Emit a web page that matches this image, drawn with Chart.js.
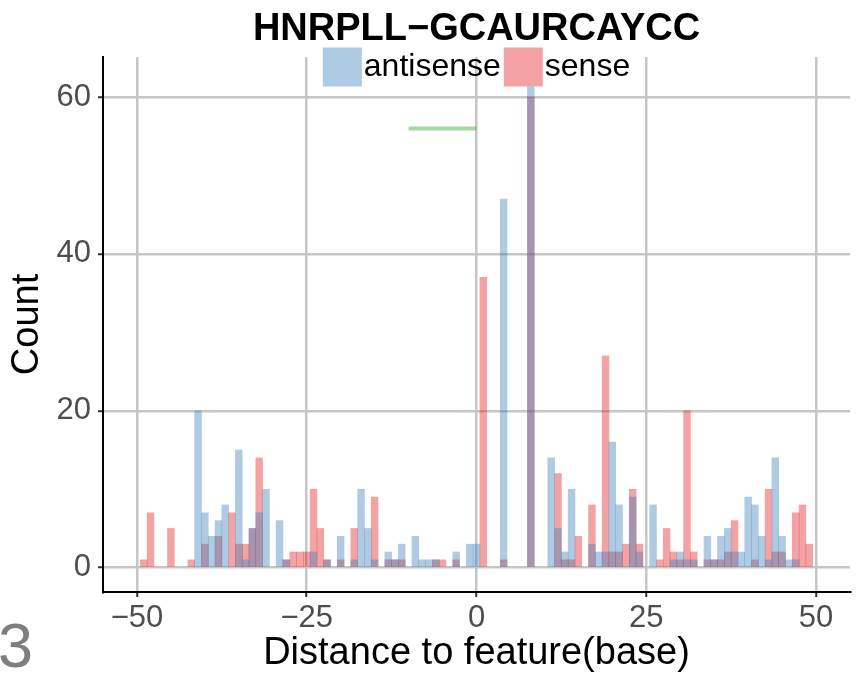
<!DOCTYPE html>
<html>
<head>
<meta charset="utf-8">
<title>HNRPLL-GCAURCAYCC</title>
<script src="https://cdn.jsdelivr.net/npm/chart.js@4.4.1/dist/chart.umd.min.js"></script>
<style>
  html, body { margin: 0; padding: 0; background: #fff; }
  canvas { display: block; }
</style>
</head>
<body>
<canvas id="myChart" width="864" height="676"></canvas>
<script>
// counts per base, bins of width 1 (only non-empty bins)
const antisensePos = [-41, -40, -39, -38, -37, -35, -34, -33, -32, -31, -29, -28, -24, -22, -20, -18, -17, -16, -15, -13, -12, -11, -9, -8, -7, -6, -3, -1, 0,
    4, 8, 11, 12, 13, 14, 17, 18, 19, 20, 21, 23, 24, 26, 29, 30, 31, 32, 34, 35, 36, 37, 38, 39, 40, 41, 42, 43, 44, 45, 46, 47];
const antisenseCount = [20, 7, 4, 6, 8, 15, 1, 5, 7, 10, 6, 1, 2, 1, 4, 1, 10, 5, 1, 2, 1, 3, 4, 1, 1, 1, 2, 3, 3,
    47, 62, 14, 5, 2, 10, 3, 2, 2, 16, 8, 9, 2, 8, 1, 2, 1, 1, 4, 1, 4, 5, 2, 2, 9, 8, 4, 1, 14, 4, 1, 1];

const sensePos = [-49, -48, -45, -42, -40, -38, -36, -35, -34, -33, -32, -28, -27, -26, -25, -24, -23, -22, -20, -18, -15, -13, -12, -11, -6, -5, -3,
    1, 4, 8, 12, 13, 14, 15, 17, 19, 20, 21, 22, 23, 24, 27, 28, 29, 30, 31, 32, 34, 35, 36, 37, 38, 41, 43, 44, 45, 47, 48, 49];
const senseCount = [1, 7, 5, 1, 3, 4, 7, 3, 3, 5, 14, 1, 2, 2, 2, 10, 5, 1, 1, 5, 9, 1, 1, 1, 1, 1, 1,
    37, 1, 60, 12, 1, 1, 4, 8, 27, 2, 2, 3, 10, 3, 1, 5, 2, 1, 20, 2, 1, 1, 1, 2, 6, 1, 10, 2, 2, 7, 8, 3];

// motif segment (green)
const motifPos = [-10, 0];
const motifCount = [56, 56];

const xTicks = [-50, -25, 0, 25, 50];
const yTicks = [0, 20, 40, 60];

const FONT = "'Liberation Sans', Arial, Helvetica, sans-serif";

function toPoints(xs, ys) {
    return xs.map((x, i) => ({ x: x, y: ys[i] }));
}

function minus(v) {
    return v < 0 ? '\u2212' + Math.abs(v) : String(v);
}

// legend on top of the panel, like ggplot's inside legend
const topLegend = {
    id: 'topLegend',
    afterDatasetsDraw(chart) {
        const ctx = chart.ctx;
        const area = chart.chartArea;
        const items = chart.data.datasets.filter(d => d.type !== 'line');
        const box = 39, gap = 2, itemGap = 3, yMid = 67;
        ctx.save();
        ctx.font = '32px ' + FONT;
        ctx.textBaseline = 'middle';
        let total = 0;
        items.forEach((d, i) => {
            total += box + gap + ctx.measureText(d.label).width + (i ? itemGap : 0);
        });
        let x = (area.left + area.right) / 2 - total / 2;
        items.forEach(d => {
            ctx.fillStyle = '#fff';
            ctx.fillRect(x, yMid - box / 2, box, box);
            ctx.fillStyle = d.backgroundColor;
            ctx.fillRect(x, yMid - box / 2, box, box);
            x += box + gap;
            ctx.fillStyle = '#000';
            ctx.fillText(d.label, x, yMid);
            x += ctx.measureText(d.label).width + itemGap;
        });
        ctx.restore();
    },
    afterDraw(chart) {
        // panel tag
        const ctx = chart.ctx;
        ctx.save();
        ctx.font = '63px ' + FONT;
        ctx.fillStyle = '#7f7f7f';
        ctx.textBaseline = 'alphabetic';
        ctx.fillText('3', -2, 667);
        ctx.restore();
    }
};

const config = {
    type: 'bar',
    data: {
        datasets: [
            {
                type: 'line',
                label: 'motif',
                data: toPoints(motifPos, motifCount),
                borderColor: 'rgba(77,175,74,0.5)',
                borderWidth: 4,
                pointRadius: 0,
                fill: false
            },
            {
                label: 'antisense',
                data: toPoints(antisensePos, antisenseCount),
                backgroundColor: 'rgba(55,126,184,0.4)',
                borderWidth: 0
            },
            {
                label: 'sense',
                data: toPoints(sensePos, senseCount),
                backgroundColor: 'rgba(228,26,28,0.4)',
                borderWidth: 0
            }
        ]
    },
    options: {
        responsive: false,
        animation: false,
        events: [],
        layout: { padding: { left: 0, right: 14, top: 0, bottom: 0 } },
        datasets: {
            bar: { barPercentage: 1, categoryPercentage: 1, grouped: false }
        },
        plugins: {
            legend: { display: false },
            tooltip: { enabled: false },
            title: {
                display: true,
                text: 'HNRPLL\u2212GCAURCAYCC',
                fullSize: false,
                color: '#000',
                font: { family: FONT, size: 38, weight: 'bold', lineHeight: 1.2 },
                padding: { top: 7, bottom: 4.4 }
            }
        },
        scales: {
            x: {
                type: 'linear',
                min: -55,
                max: 55,
                offset: false,
                afterBuildTicks: s => { s.ticks = xTicks.map(v => ({ value: v })); },
                afterFit: s => { s.height = 84; },
                grid: { offset: false, color: '#c6c6c6', lineWidth: 2.5, tickLength: 5, tickColor: '#333', tickWidth: 2 },
                border: { display: true, color: '#000', width: 2 },
                ticks: {
                    color: '#4d4d4d',
                    padding: 3,
                    maxRotation: 0,
                    autoSkip: false,
                    font: { family: FONT, size: 31, lineHeight: 1.2 },
                    callback: v => minus(v)
                },
                title: {
                    display: true,
                    text: 'Distance to feature(base)',
                    color: '#000',
                    font: { family: FONT, size: 38, lineHeight: 1.2 },
                    padding: { top: 0, bottom: 0 }
                }
            },
            y: {
                min: -3.1,
                max: 65.1,
                afterBuildTicks: s => { s.ticks = yTicks.map(v => ({ value: v })); },
                afterFit: s => { s.width = 103; },
                grid: { color: '#c6c6c6', lineWidth: 2.5, tickLength: 5, tickColor: '#333', tickWidth: 2 },
                border: { display: true, color: '#000', width: 2 },
                ticks: {
                    color: '#4d4d4d',
                    padding: 7,
                    autoSkip: false,
                    font: { family: FONT, size: 31, lineHeight: 1.2 },
                    callback: v => minus(v)
                },
                title: {
                    display: true,
                    text: 'Count',
                    color: '#000',
                    font: { family: FONT, size: 38, lineHeight: 1.2 },
                    padding: { top: 5, bottom: 0 }
                }
            }
        }
    },
    plugins: [topLegend]
};

const ctx = document.querySelector('#myChart').getContext('2d');
new Chart(ctx, config);
</script>
</body>
</html>
